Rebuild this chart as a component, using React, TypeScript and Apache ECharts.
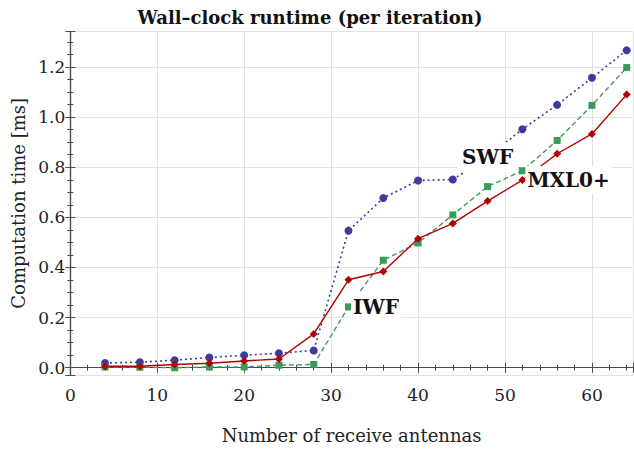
import React, { useEffect, useRef } from "react";
import * as echarts from "echarts";

const antennas = [4, 8, 12, 16, 20, 24, 28, 32, 36, 40, 44, 48, 52, 56, 60, 64];
const swf = [0.019, 0.022, 0.03, 0.041, 0.05, 0.058, 0.069, 0.547, 0.677, 0.747, 0.751, 0.84, 0.952, 1.049, 1.157, 1.267];
const iwf = [0.003, 0.002, 0.0, 0.003, 0.003, 0.01, 0.013, 0.243, 0.429, 0.498, 0.61, 0.723, 0.786, 0.907, 1.047, 1.198];
const mxl = [0.006, 0.006, 0.013, 0.018, 0.027, 0.035, 0.135, 0.351, 0.384, 0.515, 0.576, 0.665, 0.749, 0.854, 0.933, 1.09];

const seriesNames = ["SWF", "IWF", "MXL0+"];
const labelIndex = [11, 7, 12];
const titleText = "Wall\u2013clock runtime (per iteration)";
const xName = "Number of receive antennas";
const yName = "Computation time [ms]";

const SERIF = "DejaVu Serif";
const FRAME = "#4a4a4a";
const GRID = "#e2e2e2";

function build(vals: number[], idx: number, name: string, pos: string) {
  return antennas.map((x, i) => {
    if (i !== idx) return [x, vals[i]];
    return {
      value: [x, vals[i]],
      label: {
        show: true,
        formatter: name,
        position: pos,
        distance: -1,
        fontFamily: SERIF,
        fontWeight: "bold",
        fontSize: 20,
        color: "#111",
        backgroundColor: "#fff",
        padding: pos === "inside" ? [5, 5] : [4, 2],
      },
    };
  });
}

export default function App() {
  const ref = useRef<HTMLDivElement>(null);
  useEffect(() => {
    if (!ref.current) return;
    const chart = echarts.init(ref.current, null, { renderer: "svg" });
    const axisCommon = {
      axisLine: { show: true, lineStyle: { color: FRAME, width: 1.2 } },
      axisTick: { show: true, inside: true, length: 5, lineStyle: { color: FRAME } },
      minorTick: { show: true, length: 3, lineStyle: { color: FRAME } },
    };
    chart.setOption({
      animation: false,
      backgroundColor: "#fff",
      grid: { left: 70.3, top: 31.7, right: 1.2, bottom: 67.7, containLabel: false },
      graphic: [
        {
          type: "text",
          x: 310,
          y: 17,
          style: {
            text: titleText,
            fontFamily: SERIF,
            fontWeight: "bold",
            fontSize: 18,
            fill: "#111",
            textAlign: "center",
            textVerticalAlign: "middle",
          },
        },
      ],
      xAxis: [
        {
          type: "value",
          min: 0,
          max: 64.7,
          interval: 10,
          position: "bottom",
          ...axisCommon,
          minorTick: { ...axisCommon.minorTick, splitNumber: 5 },
          splitLine: { show: true, lineStyle: { color: GRID, width: 1 } },
          axisLabel: {
            showMaxLabel: false,
            fontFamily: SERIF,
            fontSize: 17,
            color: "#222",
            margin: 11,
          },
          name: xName,
          nameLocation: "middle",
          nameGap: 51,
          nameTextStyle: { fontFamily: SERIF, fontSize: 18, color: "#222" },
        },
        {
          type: "value",
          min: 0,
          max: 64.7,
          interval: 10,
          position: "top",
          ...axisCommon,
          minorTick: { ...axisCommon.minorTick, splitNumber: 5 },
          splitLine: { show: false },
          axisLabel: { show: false },
        },
      ],
      yAxis: [
        {
          type: "value",
          min: -0.029,
          max: 1.341,
          splitNumber: 7,
          position: "left",
          ...axisCommon,
          minorTick: { ...axisCommon.minorTick, splitNumber: 4 },
          splitLine: { show: true, lineStyle: { color: GRID, width: 1 } },
          axisLabel: {
            showMinLabel: false,
            showMaxLabel: false,
            formatter: (v: number) => v.toFixed(1),
            fontFamily: SERIF,
            fontSize: 17,
            color: "#222",
            margin: 5,
          },
          name: yName,
          nameLocation: "middle",
          nameGap: 40,
          nameTextStyle: { fontFamily: SERIF, fontSize: 18, color: "#222" },
        },
        {
          type: "value",
          min: -0.029,
          max: 1.341,
          splitNumber: 7,
          position: "right",
          ...axisCommon,
          minorTick: { ...axisCommon.minorTick, splitNumber: 4 },
          splitLine: { show: false },
          axisLabel: { show: false },
        },
      ],
      series: [
        {
          name: seriesNames[0],
          type: "line",
          data: build(swf, labelIndex[0], seriesNames[0], "inside"),
          symbol: "circle",
          symbolSize: 8,
          itemStyle: { color: "#3d3c9c" },
          lineStyle: { color: "#3d3c9c", width: 1.6, type: [2, 3] },
          z: 3,
        },
        {
          name: seriesNames[1],
          type: "line",
          data: build(iwf, labelIndex[1], seriesNames[1], "right"),
          symbol: "rect",
          symbolSize: 7,
          itemStyle: { color: "#3c9b5a" },
          lineStyle: { color: "#3c9b5a", width: 1.4, type: [5, 3] },
          z: 4,
        },
        {
          name: seriesNames[2],
          type: "line",
          data: build(mxl, labelIndex[2], seriesNames[2], "right"),
          symbol: "diamond",
          symbolSize: 8,
          itemStyle: { color: "#b30000" },
          lineStyle: { color: "#b30000", width: 1.4 },
          z: 5,
        },
      ],
    });
    return () => chart.dispose();
  }, []);
  return <div ref={ref} style={{ width: 634, height: 449, position: "fixed", left: 0, top: 0 }} />;
}
